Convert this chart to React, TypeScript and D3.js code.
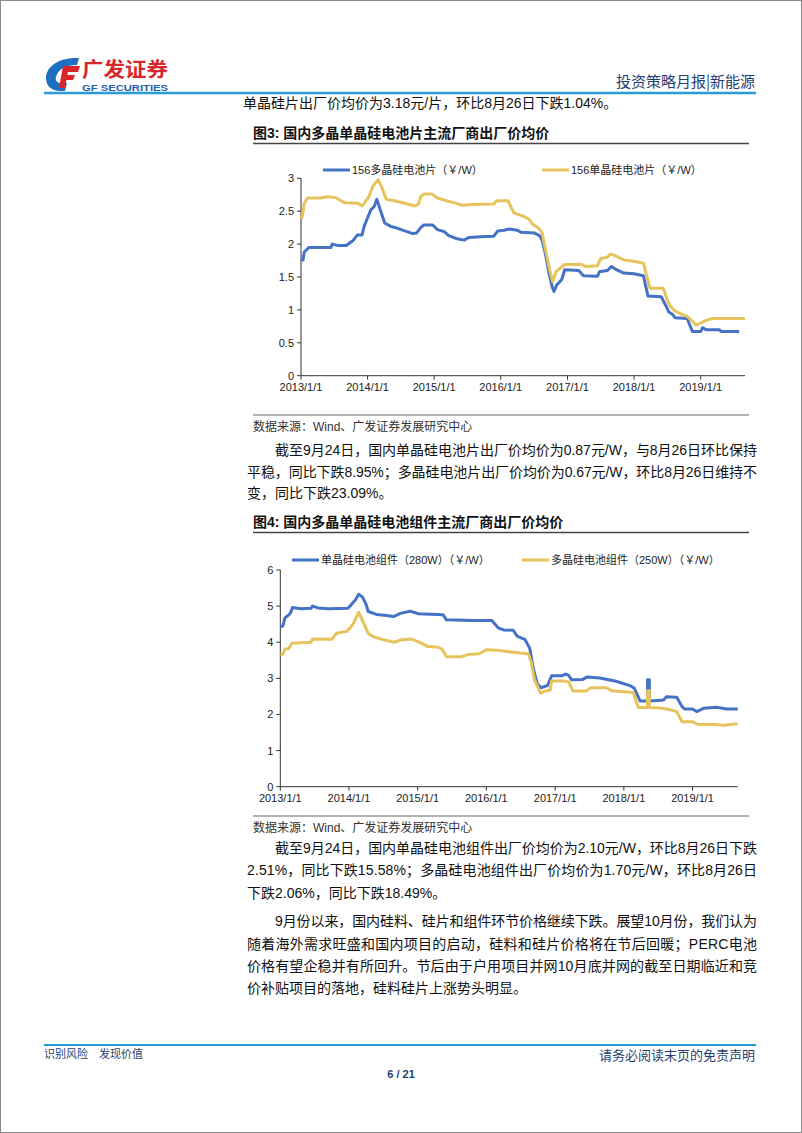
import React from "react";
import * as d3 from "d3";

// ---------- DATA ----------
const yearTicks = ["2013-01-01", "2014-01-01", "2015-01-01", "2016-01-01", "2017-01-01", "2018-01-01", "2019-01-01"];
const yearTickLabels = ["2013/1/1", "2014/1/1", "2015/1/1", "2016/1/1", "2017/1/1", "2018/1/1", "2019/1/1"];

const cellYTicks = [0, 0.5, 1, 1.5, 2, 2.5, 3];
const moduleYTicks = [0, 1, 2, 3, 4, 5, 6];

const cellSeriesNames = ["156多晶硅电池片（￥/W）", "156单晶硅电池片（￥/W）"];
const moduleSeriesNames = ["单晶硅电池组件（280W）（￥/W）", "多晶硅电池组件（250W）（￥/W）"];

// 156 poly cell
const polyCell: [string, number][] = [
  ["2013-01-01", 1.75], ["2013-01-12", 1.76], ["2013-01-19", 1.88], ["2013-02-14", 1.95], ["2013-06-14", 1.95],
  ["2013-06-21", 2.0], ["2013-07-20", 1.98], ["2013-09-06", 1.98], ["2013-10-12", 2.05], ["2013-11-06", 2.14],
  ["2013-12-02", 2.14], ["2013-12-13", 2.27], ["2014-01-01", 2.4], ["2014-01-19", 2.52], ["2014-02-06", 2.57],
  ["2014-02-21", 2.68], ["2014-03-14", 2.5], ["2014-04-05", 2.32], ["2014-05-08", 2.27], ["2014-06-14", 2.24],
  ["2014-07-24", 2.2], ["2014-09-06", 2.16], ["2014-09-27", 2.17], ["2014-10-19", 2.25], ["2014-11-06", 2.29],
  ["2014-12-24", 2.29], ["2015-01-19", 2.22], ["2015-02-25", 2.19], ["2015-03-22", 2.13], ["2015-05-08", 2.08],
  ["2015-06-14", 2.06], ["2015-07-10", 2.1], ["2015-09-13", 2.11], ["2015-11-24", 2.12], ["2015-12-16", 2.2],
  ["2016-01-19", 2.21], ["2016-02-14", 2.23], ["2016-04-02", 2.21], ["2016-04-20", 2.18], ["2016-07-02", 2.17],
  ["2016-07-31", 2.13], ["2016-08-15", 2.06], ["2016-09-02", 1.85], ["2016-09-20", 1.58], ["2016-10-09", 1.35],
  ["2016-10-19", 1.28], ["2016-11-03", 1.38], ["2016-11-17", 1.42], ["2016-12-02", 1.47], ["2016-12-16", 1.61],
  ["2017-03-04", 1.6], ["2017-03-29", 1.52], ["2017-06-14", 1.51], ["2017-06-25", 1.58], ["2017-08-08", 1.6],
  ["2017-08-29", 1.66], ["2017-09-20", 1.62], ["2017-11-06", 1.56], ["2018-01-01", 1.55], ["2018-02-21", 1.52],
  ["2018-03-18", 1.21], ["2018-05-30", 1.2], ["2018-06-25", 1.06], ["2018-07-10", 0.97], ["2018-07-31", 0.93],
  ["2018-08-15", 0.88], ["2018-10-19", 0.87], ["2018-11-17", 0.67], ["2019-01-01", 0.67], ["2019-01-12", 0.73],
  ["2019-01-30", 0.7], ["2019-04-13", 0.7], ["2019-04-24", 0.67], ["2019-07-31", 0.67],
];

// 156 mono cell
const monoCell: [string, number][] = [
  ["2013-01-01", 2.39], ["2013-01-08", 2.42], ["2013-01-19", 2.62], ["2013-02-06", 2.7], ["2013-04-20", 2.7],
  ["2013-05-27", 2.72], ["2013-07-10", 2.71], ["2013-07-31", 2.67], ["2013-08-29", 2.63], ["2013-11-10", 2.62],
  ["2013-12-02", 2.58], ["2013-12-16", 2.63], ["2014-01-08", 2.72], ["2014-01-30", 2.88], ["2014-02-28", 2.98],
  ["2014-03-22", 2.85], ["2014-04-13", 2.68], ["2014-05-27", 2.66], ["2014-07-24", 2.62], ["2014-09-16", 2.58],
  ["2014-10-05", 2.6], ["2014-10-19", 2.72], ["2014-11-06", 2.76], ["2014-12-20", 2.76], ["2015-01-19", 2.7],
  ["2015-03-07", 2.66], ["2015-04-20", 2.63], ["2015-06-03", 2.59], ["2015-07-20", 2.6], ["2015-11-24", 2.61],
  ["2015-12-09", 2.66], ["2016-02-10", 2.66], ["2016-02-28", 2.55], ["2016-03-14", 2.47], ["2016-05-08", 2.42],
  ["2016-06-03", 2.38], ["2016-06-25", 2.3], ["2016-07-27", 2.24], ["2016-08-15", 2.17], ["2016-09-02", 1.92],
  ["2016-09-24", 1.62], ["2016-10-12", 1.43], ["2016-10-30", 1.58], ["2016-11-24", 1.64], ["2016-12-16", 1.69],
  ["2017-03-22", 1.69], ["2017-04-09", 1.66], ["2017-06-14", 1.67], ["2017-07-02", 1.78], ["2017-08-08", 1.8],
  ["2017-08-26", 1.85], ["2017-09-20", 1.82], ["2017-11-06", 1.76], ["2018-01-01", 1.74], ["2018-02-21", 1.71],
  ["2018-03-29", 1.33], ["2018-06-10", 1.33], ["2018-07-02", 1.15], ["2018-07-20", 1.05], ["2018-08-15", 0.98],
  ["2018-09-13", 0.94], ["2018-10-19", 0.9], ["2018-11-17", 0.83], ["2018-12-05", 0.77], ["2019-01-01", 0.8],
  ["2019-01-30", 0.84], ["2019-03-07", 0.87], ["2019-09-01", 0.87],
];

// mono module 280W
const monoModule: [string, number][] = [
  ["2013-01-01", 4.43], ["2013-01-15", 4.45], ["2013-01-26", 4.68], ["2013-02-14", 4.75], ["2013-02-25", 4.82],
  ["2013-03-07", 4.96], ["2013-04-20", 4.93], ["2013-06-14", 4.94], ["2013-06-21", 5.0], ["2013-07-20", 4.95],
  ["2013-09-13", 4.93], ["2013-12-27", 4.94], ["2014-01-15", 5.05], ["2014-02-06", 5.18], ["2014-02-21", 5.33],
  ["2014-03-14", 5.25], ["2014-04-02", 5.05], ["2014-04-13", 4.85], ["2014-05-27", 4.77], ["2014-07-20", 4.74],
  ["2014-08-26", 4.71], ["2014-10-01", 4.8], ["2014-11-21", 4.86], ["2015-01-05", 4.79], ["2015-05-16", 4.76],
  ["2015-06-03", 4.62], ["2015-10-19", 4.6], ["2016-01-30", 4.6], ["2016-03-04", 4.4], ["2016-04-02", 4.34],
  ["2016-05-23", 4.33], ["2016-06-14", 4.16], ["2016-07-24", 4.08], ["2016-08-19", 3.83], ["2016-09-06", 3.28],
  ["2016-09-27", 2.86], ["2016-10-16", 2.74], ["2016-11-21", 2.8], ["2016-12-13", 3.07], ["2017-02-06", 3.07],
  ["2017-02-25", 3.12], ["2017-03-14", 3.08], ["2017-03-29", 2.96], ["2017-05-27", 2.97], ["2017-06-21", 3.04],
  ["2017-08-26", 3.01], ["2017-11-21", 2.92], ["2018-02-02", 2.8], ["2018-02-25", 2.73], ["2018-03-29", 2.37],
  ["2018-05-06", 2.37], ["2018-05-07", 2.96], ["2018-05-16", 2.96], ["2018-05-17", 2.37], ["2018-07-02", 2.39],
  ["2018-07-31", 2.4], ["2018-08-15", 2.49], ["2018-10-09", 2.48], ["2018-11-06", 2.22], ["2018-11-21", 2.15],
  ["2019-01-01", 2.15], ["2019-01-23", 2.08], ["2019-02-28", 2.17], ["2019-05-08", 2.2], ["2019-07-02", 2.15],
  ["2019-08-29", 2.15],
];

// poly module 250W
const polyModule: [string, number][] = [
  ["2013-01-01", 3.67], ["2013-01-15", 3.67], ["2013-01-26", 3.81], ["2013-02-14", 3.82], ["2013-03-04", 3.97],
  ["2013-06-14", 4.0], ["2013-06-21", 4.09], ["2013-10-01", 4.08], ["2013-10-27", 4.25], ["2013-12-20", 4.3],
  ["2014-01-08", 4.4], ["2014-01-26", 4.53], ["2014-02-21", 4.83], ["2014-03-14", 4.6], ["2014-04-13", 4.25],
  ["2014-05-08", 4.16], ["2014-07-10", 4.06], ["2014-08-29", 4.0], ["2014-10-01", 4.06], ["2014-11-28", 4.09],
  ["2015-01-23", 3.97], ["2015-02-25", 3.88], ["2015-04-20", 3.86], ["2015-05-12", 3.8], ["2015-06-03", 3.6],
  ["2015-08-22", 3.6], ["2015-09-27", 3.66], ["2015-11-24", 3.68], ["2016-01-01", 3.79], ["2016-02-25", 3.78],
  ["2016-04-09", 3.75], ["2016-06-28", 3.7], ["2016-08-11", 3.68], ["2016-08-26", 3.46], ["2016-09-13", 2.96],
  ["2016-10-16", 2.59], ["2016-11-10", 2.65], ["2016-12-05", 2.67], ["2016-12-13", 2.93], ["2017-02-21", 2.93],
  ["2017-03-14", 2.9], ["2017-04-05", 2.65], ["2017-06-17", 2.65], ["2017-07-06", 2.74], ["2017-10-01", 2.74],
  ["2017-10-27", 2.66], ["2018-02-21", 2.61], ["2018-03-18", 2.19], ["2018-05-06", 2.19], ["2018-05-07", 2.66],
  ["2018-05-16", 2.66], ["2018-05-17", 2.19], ["2018-07-13", 2.18], ["2018-08-19", 2.15], ["2018-10-09", 2.08],
  ["2018-11-06", 1.8], ["2019-01-01", 1.8], ["2019-01-26", 1.73], ["2019-04-27", 1.72], ["2019-06-14", 1.7],
  ["2019-08-29", 1.74],
];

// ---------- STYLE ----------
const BLUE = "#4472C4";
const GOLD = "#E7C35E";
const NAVY = "#1F3F73";
const SANS = "'Liberation Sans', Arial, 'Noto Sans CJK SC', sans-serif";
const CJK = "'Liberation Sans', 'Noto Sans CJK SC', sans-serif";

const parse = d3.timeParse("%Y-%m-%d");

type Series = { name: string; color: string; data: [string, number][]; legendX: number };

function LineChart(props: {
  left: number; right: number; top: number; bottom: number;
  end: string; yMax: number; yTicks: number[]; series: Series[]; legendY: number;
}) {
  const { left, right, top, bottom, end, yMax, yTicks, series, legendY } = props;
  const x = d3.scaleTime().domain([parse("2013-01-01")!, parse(end)!]).range([left, right]);
  const y = d3.scaleLinear().domain([0, yMax]).range([bottom, top]);
  const line = d3.line<[string, number]>().x((d) => x(parse(d[0])!)).y((d) => y(d[1]));
  return (
    <g>
      <line x1={left} x2={left} y1={top} y2={bottom} stroke="#333" strokeWidth={1} />
      {yTicks.map((t) => (
        <g key={"y" + t}>
          <line x1={left - 4} x2={left} y1={y(t)} y2={y(t)} stroke="#333" />
          <text x={left - 7} y={y(t) + 4} textAnchor="end" fontSize={11} fontFamily={SANS} fill="#222">{String(t)}</text>
        </g>
      ))}
      <line x1={left} x2={right} y1={bottom} y2={bottom} stroke="#333" strokeWidth={1} />
      {yearTicks.map((t, i) => (
        <g key={"x" + t}>
          <line x1={x(parse(t)!)} x2={x(parse(t)!)} y1={bottom} y2={bottom + 4} stroke="#333" />
          <text x={x(parse(t)!)} y={bottom + 15} textAnchor="middle" fontSize={11} fontFamily={SANS} fill="#222">{yearTickLabels[i]}</text>
        </g>
      ))}
      {series.map((s) => (
        <path key={s.name} d={line(s.data) || ""} fill="none" stroke={s.color} strokeWidth={3} strokeLinejoin="round" />
      ))}
      {series.map((s) => (
        <g key={"lg" + s.name}>
          <line x1={s.legendX} x2={s.legendX + 27} y1={legendY} y2={legendY} stroke={s.color} strokeWidth={3} />
          <text x={s.legendX + 29} y={legendY + 4} fontSize={11} fontFamily={CJK} fill="#222">{s.name}</text>
        </g>
      ))}
    </g>
  );
}

function Para({ lines, ys }: { lines: { t: string; x: number; full: boolean }[]; ys: number[] }) {
  return (
    <g>
      {lines.map((l, i) => (
        <text key={i} x={l.x} y={ys[i]} fontSize={14} fontFamily={CJK} fill="#111"
          {...(l.full ? { textLength: 757 - l.x, lengthAdjust: "spacing" } : {})}>{l.t}</text>
      ))}
    </g>
  );
}

export default function App() {
  return (
    <div style={{ position: "absolute", left: 0, top: 0 }}>
      <svg width={802} height={1133} style={{ display: "block", background: "#fff" }}>
        <rect x={0.5} y={0.5} width={801} height={1132} fill="#fff" stroke="#8a8a8a" />
        {/* header logo */}
        <path d="M79 58 C60 57 46 66 46 78 C46 86 52 91 60 91 L65 91 L67 83 L61 83 C57 83 55 80 56 77 C58 69 66 65 77 65 Z" fill="#1E6FC0" />
        <path d="M64 66 L80 66 L78 72 L63 72 Z M62 75 L75 75 L73 80 L61 80 Z M63 66 L69 66 L65 88 L59 88 Z" fill="#D9262B" />
        <text x={82} y={77} fontSize={20} fontWeight="bold" fontFamily="'Noto Sans CJK SC', sans-serif" fill="#D9262B"
          textLength={86} lengthAdjust="spacingAndGlyphs">广发证券</text>
        <text x={82} y={91} fontSize={9} fontWeight="bold" fontFamily={SANS} fill="#1E5FAE" textLength={86} lengthAdjust="spacingAndGlyphs">GF SECURITIES</text>
        <text x={755} y={87} textAnchor="end" fontSize={15} fontFamily="'Noto Sans CJK SC', sans-serif" fill={NAVY}>投资策略月报|新能源</text>
        <line x1={44} x2={756} y1={93} y2={93} stroke="#2A9AD8" strokeWidth={2.5} />

        <text x={243} y={108} fontSize={14} fontFamily={CJK} fill="#111">单晶硅片出厂价均价为3.18元/片，环比8月26日下跌1.04%。</text>

        {/* Figure 3 */}
        <text x={253} y={138} fontSize={14} fontWeight="bold" fontFamily={CJK} fill="#111">图3:  国内多晶单晶硅电池片主流厂商出厂价均价</text>
        <line x1={253} x2={749} y1={143.5} y2={143.5} stroke="#444" strokeWidth={1.5} />
        <LineChart left={301} right={745} top={178.3} bottom={375.7} end="2019-09-01" yMax={3} yTicks={cellYTicks}
          legendY={170}
          series={[
            { name: cellSeriesNames[0], color: BLUE, data: polyCell, legendX: 323 },
            { name: cellSeriesNames[1], color: GOLD, data: monoCell, legendX: 542 },
          ]} />
        <line x1={253} x2={749} y1={415} y2={415} stroke="#666" strokeWidth={1} />
        <text x={253} y={431} fontSize={12} fontFamily={CJK} fill="#333">数据来源：Wind、广发证券发展研究中心</text>

        <Para ys={[455, 476.5, 498]} lines={[
          { t: "截至9月24日，国内单晶硅电池片出厂价均价为0.87元/W，与8月26日环比保持", x: 275, full: true },
          { t: "平稳，同比下跌8.95%；多晶硅电池片出厂价均价为0.67元/W，环比8月26日维持不", x: 247, full: true },
          { t: "变，同比下跌23.09%。", x: 247, full: false },
        ]} />

        {/* Figure 4 */}
        <text x={253} y={527} fontSize={14} fontWeight="bold" fontFamily={CJK} fill="#111">图4:  国内多晶单晶硅电池组件主流厂商出厂价均价</text>
        <line x1={253} x2={749} y1={532.5} y2={532.5} stroke="#444" strokeWidth={1.5} />
        <LineChart left={280.3} right={737.7} top={570} bottom={786.7} end="2019-08-29" yMax={6} yTicks={moduleYTicks}
          legendY={560}
          series={[
            { name: moduleSeriesNames[0], color: BLUE, data: monoModule, legendX: 292 },
            { name: moduleSeriesNames[1], color: GOLD, data: polyModule, legendX: 522 },
          ]} />
        <line x1={253} x2={749} y1={816} y2={816} stroke="#666" strokeWidth={1} />
        <text x={253} y={832} fontSize={12} fontFamily={CJK} fill="#333">数据来源：Wind、广发证券发展研究中心</text>

        <Para ys={[853, 875, 898]} lines={[
          { t: "截至9月24日，国内单晶硅电池组件出厂价均价为2.10元/W，环比8月26日下跌", x: 275, full: true },
          { t: "2.51%，同比下跌15.58%；多晶硅电池组件出厂价均价为1.70元/W，环比8月26日", x: 247, full: true },
          { t: "下跌2.06%，同比下跌18.49%。", x: 247, full: false },
        ]} />
        <Para ys={[926, 948.5, 971, 993]} lines={[
          { t: "9月份以来，国内硅料、硅片和组件环节价格继续下跌。展望10月份，我们认为", x: 275, full: true },
          { t: "随着海外需求旺盛和国内项目的启动，硅料和硅片价格将在节后回暖；PERC电池", x: 247, full: true },
          { t: "价格有望企稳并有所回升。节后由于户用项目并网10月底并网的截至日期临近和竞", x: 247, full: true },
          { t: "价补贴项目的落地，硅料硅片上涨势头明显。", x: 247, full: false },
        ]} />

        {/* footer */}
        <line x1={44} x2={756} y1={1045} y2={1045} stroke="#2A9AD8" strokeWidth={2} />
        <text x={44} y={1058} fontSize={11} fontFamily="'Noto Sans CJK SC', sans-serif" fill={NAVY}>识别风险　发现价值</text>
        <text x={755} y={1060} textAnchor="end" fontSize={13} fontFamily="'Noto Sans CJK SC', sans-serif" fill={NAVY}>请务必阅读末页的免责声明</text>
        <text x={401} y={1078} textAnchor="middle" fontSize={11} fontWeight="bold" fontFamily={SANS} fill={NAVY}>6 / 21</text>
      </svg>
    </div>
  );
}
